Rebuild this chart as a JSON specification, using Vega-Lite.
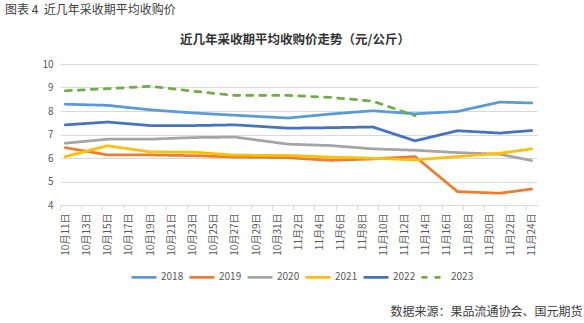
{
  "$schema": "https://vega.github.io/schema/vega-lite/v6.json",
  "width": 477,
  "height": 141,
  "autosize": {"type": "none"},
  "padding": {"left": 60, "top": 64, "right": 47, "bottom": 118},
  "background": "white",
  "config": {"font": "Noto Sans CJK SC", "view": {"stroke": null}},
  "title": {"text": "图表 4\u00a0 近几年采收期平均收购价", "anchor": "start", "frame": "group", "dx": -55, "offset": 16, "fontSize": 12, "fontWeight": "normal", "color": "#404040"},
  "data": {"values": [
    {"year": "2018", "date": "2023-10-11", "price": 8.29},
    {"year": "2018", "date": "2023-10-15", "price": 8.24},
    {"year": "2018", "date": "2023-10-19", "price": 8.05},
    {"year": "2018", "date": "2023-10-23", "price": 7.92},
    {"year": "2018", "date": "2023-10-27", "price": 7.82},
    {"year": "2018", "date": "2023-11-01", "price": 7.70},
    {"year": "2018", "date": "2023-11-05", "price": 7.87},
    {"year": "2018", "date": "2023-11-09", "price": 8.01},
    {"year": "2018", "date": "2023-11-13", "price": 7.88},
    {"year": "2018", "date": "2023-11-17", "price": 7.98},
    {"year": "2018", "date": "2023-11-21", "price": 8.38},
    {"year": "2018", "date": "2023-11-24", "price": 8.34},
    {"year": "2019", "date": "2023-10-11", "price": 6.44},
    {"year": "2019", "date": "2023-10-15", "price": 6.13},
    {"year": "2019", "date": "2023-10-19", "price": 6.13},
    {"year": "2019", "date": "2023-10-23", "price": 6.10},
    {"year": "2019", "date": "2023-10-27", "price": 6.04},
    {"year": "2019", "date": "2023-11-01", "price": 6.01},
    {"year": "2019", "date": "2023-11-05", "price": 5.90},
    {"year": "2019", "date": "2023-11-09", "price": 5.96},
    {"year": "2019", "date": "2023-11-13", "price": 6.06},
    {"year": "2019", "date": "2023-11-17", "price": 4.57},
    {"year": "2019", "date": "2023-11-21", "price": 4.50},
    {"year": "2019", "date": "2023-11-24", "price": 4.68},
    {"year": "2020", "date": "2023-10-11", "price": 6.63},
    {"year": "2020", "date": "2023-10-15", "price": 6.80},
    {"year": "2020", "date": "2023-10-19", "price": 6.80},
    {"year": "2020", "date": "2023-10-23", "price": 6.87},
    {"year": "2020", "date": "2023-10-27", "price": 6.89},
    {"year": "2020", "date": "2023-11-01", "price": 6.59},
    {"year": "2020", "date": "2023-11-05", "price": 6.53},
    {"year": "2020", "date": "2023-11-09", "price": 6.39},
    {"year": "2020", "date": "2023-11-13", "price": 6.33},
    {"year": "2020", "date": "2023-11-17", "price": 6.23},
    {"year": "2020", "date": "2023-11-21", "price": 6.16},
    {"year": "2020", "date": "2023-11-24", "price": 5.89},
    {"year": "2021", "date": "2023-10-11", "price": 6.06},
    {"year": "2021", "date": "2023-10-15", "price": 6.52},
    {"year": "2021", "date": "2023-10-19", "price": 6.26},
    {"year": "2021", "date": "2023-10-23", "price": 6.25},
    {"year": "2021", "date": "2023-10-27", "price": 6.12},
    {"year": "2021", "date": "2023-11-01", "price": 6.11},
    {"year": "2021", "date": "2023-11-05", "price": 6.04},
    {"year": "2021", "date": "2023-11-09", "price": 5.99},
    {"year": "2021", "date": "2023-11-13", "price": 5.92},
    {"year": "2021", "date": "2023-11-17", "price": 6.06},
    {"year": "2021", "date": "2023-11-21", "price": 6.20},
    {"year": "2021", "date": "2023-11-24", "price": 6.39},
    {"year": "2022", "date": "2023-10-11", "price": 7.41},
    {"year": "2022", "date": "2023-10-15", "price": 7.53},
    {"year": "2022", "date": "2023-10-19", "price": 7.38},
    {"year": "2022", "date": "2023-10-23", "price": 7.38},
    {"year": "2022", "date": "2023-10-27", "price": 7.41},
    {"year": "2022", "date": "2023-11-01", "price": 7.27},
    {"year": "2022", "date": "2023-11-05", "price": 7.29},
    {"year": "2022", "date": "2023-11-09", "price": 7.32},
    {"year": "2022", "date": "2023-11-13", "price": 6.73},
    {"year": "2022", "date": "2023-11-17", "price": 7.16},
    {"year": "2022", "date": "2023-11-21", "price": 7.06},
    {"year": "2022", "date": "2023-11-24", "price": 7.17},
    {"year": "2023", "date": "2023-10-11", "price": 8.86},
    {"year": "2023", "date": "2023-10-15", "price": 8.95},
    {"year": "2023", "date": "2023-10-19", "price": 9.05},
    {"year": "2023", "date": "2023-10-23", "price": 8.85},
    {"year": "2023", "date": "2023-10-27", "price": 8.66},
    {"year": "2023", "date": "2023-11-01", "price": 8.66},
    {"year": "2023", "date": "2023-11-05", "price": 8.58},
    {"year": "2023", "date": "2023-11-09", "price": 8.42},
    {"year": "2023", "date": "2023-11-13", "price": 7.80}
  ]},
  "mark": {"type": "line", "strokeCap": "round", "strokeJoin": "round"},
  "encoding": {
    "x": {
      "field": "date", "type": "temporal",
      "scale": {"type": "utc", "domain": [1696939200000, 1700827200000]},
      "axis": {
        "values": [1696982400000, 1697155200000, 1697328000000, 1697500800000, 1697673600000, 1697846400000, 1698019200000, 1698192000000, 1698364800000, 1698537600000, 1698710400000, 1698883200000, 1699056000000, 1699228800000, 1699401600000, 1699574400000, 1699747200000, 1699920000000, 1700092800000, 1700265600000, 1700438400000, 1700611200000, 1700784000000],
        "labelExpr": "utcFormat(datum.value, '%-m月%-d日')",
        "labelAngle": 270, "labelFontSize": 10, "labelColor": "#595959", "labelPadding": 3,
        "labelOverlap": false, "labelBound": false, "labelFlush": false,
        "tickSize": 5, "tickColor": "#d9d9d9", "domainColor": "#d9d9d9",
        "tickOffset": -5.3, "labelOffset": 5.3, "grid": false,
        "title": "数据来源：果品流通协会、国元期货",
        "titleX": 522, "titleY": 106, "titleAlign": "right", "titleBaseline": "middle",
        "titleFontSize": 12, "titleFontWeight": "normal", "titleColor": "#404040"
      }
    },
    "y": {
      "field": "price", "type": "quantitative",
      "scale": {"domain": [4, 10], "nice": false, "zero": false},
      "axis": {
        "values": [4, 5, 6, 7, 8, 9, 10],
        "grid": true, "gridColor": "#d9d9d9", "domain": false, "ticks": false,
        "labelColor": "#595959", "labelFontSize": 10, "labelPadding": 7,
        "title": "近几年采收期平均收购价走势（元/公斤）",
        "titleAngle": 0, "titleX": 234.5, "titleY": -25, "titleAlign": "center", "titleBaseline": "middle",
        "titleFontSize": 12.5, "titleFontWeight": "bold", "titleColor": "#333333"
      }
    },
    "color": {
      "field": "year", "type": "nominal",
      "scale": {"domain": ["2018", "2019", "2020", "2021", "2022", "2023"], "range": ["#5B9BD5", "#ED7D31", "#A5A5A5", "#FFC000", "#4472C4", "#70AD47"]},
      "legend": {"orient": "none", "legendX": 70, "legendY": 199, "direction": "horizontal", "columns": 6, "title": null, "symbolType": "stroke", "symbolSize": 625, "symbolStrokeWidth": 3, "labelFontSize": 10, "labelColor": "#595959", "labelOffset": 3, "columnPadding": 0}
    },
    "strokeDash": {
      "field": "year", "type": "nominal",
      "scale": {"domain": ["2018", "2019", "2020", "2021", "2022", "2023"], "range": [[1, 0], [1, 0], [1, 0], [1, 0], [1, 0], [6, 7]]},
      "legend": {"orient": "none", "legendX": 70, "legendY": 199, "direction": "horizontal", "columns": 6, "title": null, "symbolType": "stroke", "symbolSize": 625, "symbolStrokeWidth": 3, "labelFontSize": 10, "labelColor": "#595959", "labelOffset": 3, "columnPadding": 0}
    },
    "strokeWidth": {
      "field": "year", "type": "ordinal",
      "scale": {"domain": ["2018", "2019", "2020", "2021", "2022", "2023"], "range": [2.75, 2.75, 2.75, 2.75, 2.75, 3.75]},
      "legend": null
    }
  }
}
